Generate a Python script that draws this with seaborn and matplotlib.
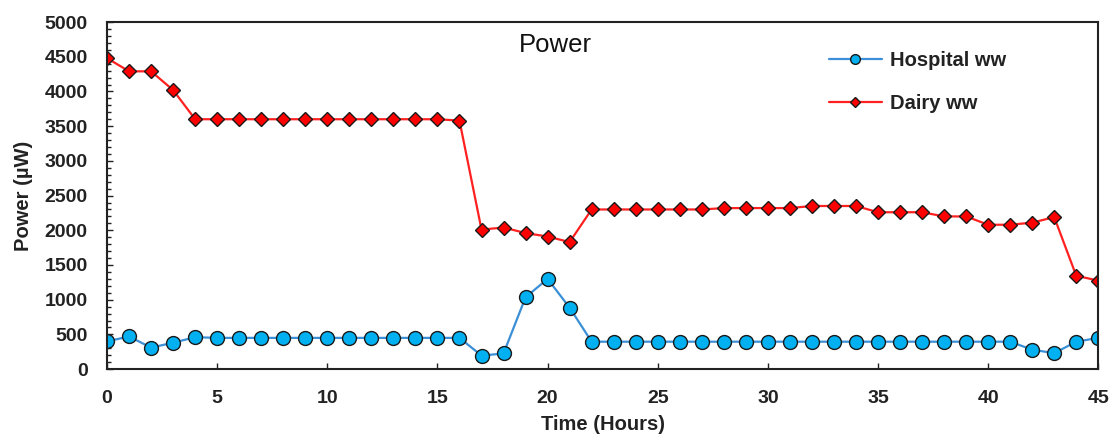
import matplotlib
matplotlib.use("Agg")
import matplotlib.pyplot as plt
from matplotlib.ticker import MultipleLocator
import seaborn as sns
import pandas as pd

sns.set_theme(style="white")
plt.rcParams['font.family'] = ['Liberation Sans', 'DejaVu Sans']

hours = list(range(46))
hospital = [400, 470, 310, 380, 460, 450, 450, 450, 450, 450, 450, 450, 450, 450, 450, 450,
            450, 195, 225, 1035, 1300, 885, 395, 395, 395, 395, 395, 395, 395, 395, 395, 395,
            395, 395, 395, 395, 395, 395, 395, 395, 395, 395, 280, 230, 395, 450]
dairy = [4480, 4290, 4290, 4020, 3600, 3600, 3600, 3600, 3600, 3600, 3600, 3600, 3600, 3600, 3600, 3600,
         3580, 2010, 2040, 1960, 1910, 1830, 2300, 2300, 2300, 2300, 2300, 2300, 2320, 2320, 2320, 2320,
         2350, 2350, 2350, 2260, 2260, 2260, 2200, 2200, 2080, 2080, 2110, 2190, 1345, 1275]

df = pd.DataFrame({"Time": hours, "Hospital ww": hospital, "Dairy ww": dairy})

fig = plt.figure(figsize=(11.15, 4.41), dpi=100)
ax = fig.add_axes([0.096, 0.163, 0.889, 0.787])

sns.lineplot(data=df, x="Time", y="Hospital ww", ax=ax, color="#3A8FD6", lw=1.6,
             marker="o", markersize=10, markerfacecolor="#00B0F0", markeredgecolor="#1a1a1a",
             markeredgewidth=1.0, label="Hospital ww")
sns.lineplot(data=df, x="Time", y="Dairy ww", ax=ax, color="#FF2020", lw=1.6,
             marker="D", markersize=7.5, markerfacecolor="#FF0000", markeredgecolor="#1a1a1a",
             markeredgewidth=1.0, label="Dairy ww")

ax.set_xlim(0, 45)
ax.set_ylim(0, 5000)
ax.xaxis.set_major_locator(MultipleLocator(5))
ax.yaxis.set_major_locator(MultipleLocator(500))
ax.yaxis.set_minor_locator(MultipleLocator(100))
ax.tick_params(axis="both", which="major", direction="in", length=4, width=1, colors="#222222",
               labelsize=14, labelcolor="#222222")
ax.tick_params(axis="x", which="major", pad=15, bottom=True)
ax.tick_params(axis="y", which="major", pad=14, left=True)
ax.tick_params(axis="y", which="minor", direction="in", length=3, width=1, left=True, color="#222222")
for lab in ax.get_xticklabels() + ax.get_yticklabels():
    lab.set_fontweight("bold")
for s in ax.spines.values():
    s.set_color("#222222")
    s.set_linewidth(1.5)

ax.set_xlabel("Time (Hours)", fontsize=14.5, fontweight="bold", color="#222222", labelpad=6)
ax.set_ylabel("Power (µW)", fontsize=14.5, fontweight="bold", color="#222222", labelpad=8)
ax.text(0.452, 0.935, "Power", transform=ax.transAxes, fontsize=18.5, ha="center", va="center",
        color="#111111")

leg = ax.legend(loc="upper right", bbox_to_anchor=(0.925, 0.97), frameon=False,
                prop={"size": 14.5, "weight": "bold"}, labelspacing=1.2, handlelength=2.6,
                handletextpad=0.4, markerscale=0.7)
for t in leg.get_texts():
    t.set_color("#222222")

fig.savefig("out.png", dpi=100)
